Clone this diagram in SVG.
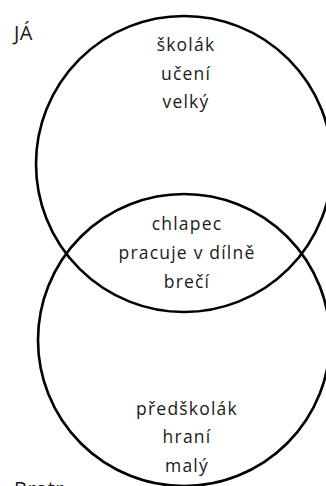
<svg xmlns="http://www.w3.org/2000/svg" width="326" height="486" viewBox="0 0 326 486">
<style>
.c{fill:none;stroke:#000;stroke-width:2.6}
.t{font-family:"Open Sans","DejaVu Sans",sans-serif;font-size:17.5px;fill:#1a1a1a;text-anchor:middle;letter-spacing:1.2px}
.l{font-family:"Open Sans","DejaVu Sans",sans-serif;font-size:20px;fill:#1a1a1a;letter-spacing:0.5px}
</style>
<rect width="326" height="486" fill="#fff"/>
<g id="connectors"></g>
<g id="ja">
<circle class="c" cx="184" cy="164" r="148"/>
<text class="l" x="14" y="40">JÁ</text>
<text class="t" x="186" y="51">školák</text>
<text class="t" x="186" y="79.5">učení</text>
<text class="t" x="186" y="107.5">velký</text>
</g>
<g id="bratr">
<circle class="c" cx="184" cy="340" r="146"/>
<text class="l" x="14" y="496">Bratr</text>
<text class="t" x="187" y="415">předškolák</text>
<text class="t" x="187" y="443">hraní</text>
<text class="t" x="187" y="471.5">malý</text>
</g>
<g id="spolecne">
<text class="t" x="187" y="230">chlapec</text>
<text class="t" x="187" y="259">pracuje v dílně</text>
<text class="t" x="187" y="288">brečí</text>
</g>
</svg>
